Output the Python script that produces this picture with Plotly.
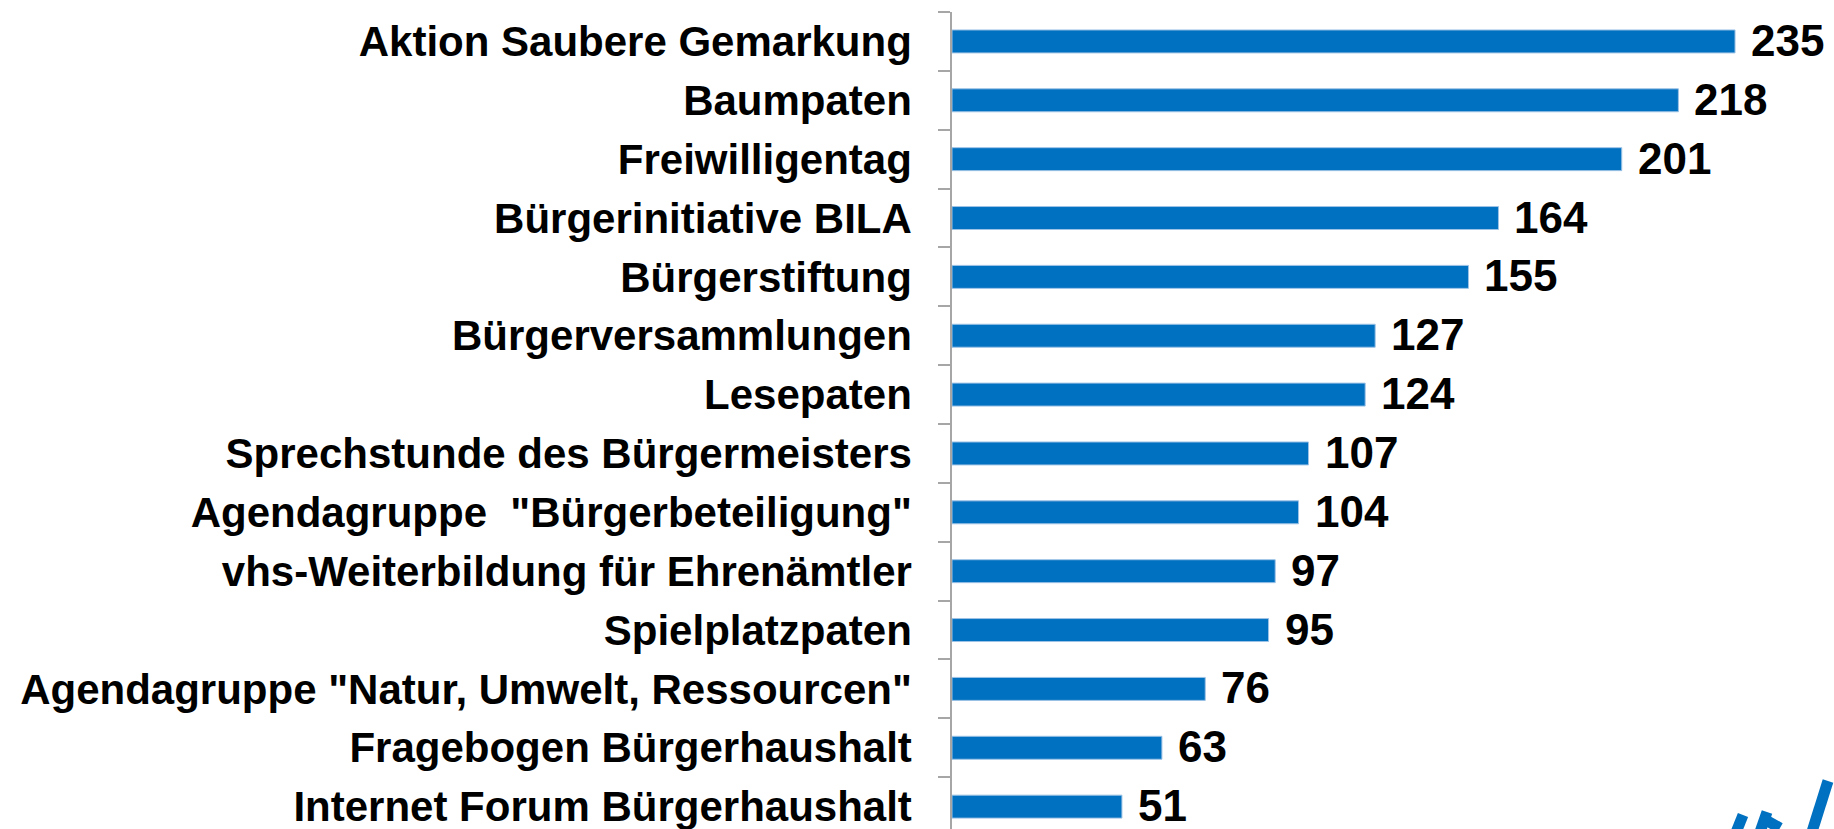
import plotly.graph_objects as go

categories = [
    "Aktion Saubere Gemarkung",
    "Baumpaten",
    "Freiwilligentag",
    "Bürgerinitiative BILA",
    "Bürgerstiftung",
    "Bürgerversammlungen",
    "Lesepaten",
    "Sprechstunde des Bürgermeisters",
    "Agendagruppe \u00a0\"Bürgerbeteiligung\"",
    "vhs-Weiterbildung für Ehrenämtler",
    "Spielplatzpaten",
    "Agendagruppe \"Natur, Umwelt, Ressourcen\"",
    "Fragebogen Bürgerhaushalt",
    "Internet Forum Bürgerhaushalt",
]
values = [235, 218, 201, 164, 155, 127, 124, 107, 104, 97, 95, 76, 63, 51]

BLUE = "#0070C0"
FONT = "Liberation Sans, Arial, sans-serif"

fig = go.Figure()
fig.add_trace(go.Bar(
    x=values,
    y=categories,
    orientation="h",
    marker=dict(color=BLUE, line=dict(color="#9DC3E6", width=1)),
    hoverinfo="x+y",
))

for c, v in zip(categories, values):
    fig.add_annotation(
        x=v, y=c, xref="x", yref="y",
        text=str(v), showarrow=False,
        xanchor="left", yanchor="middle", xshift=14, yshift=1,
        font=dict(family=FONT, size=44, color="#000000", weight="bold"),
    )

# decorative logo fragment (bottom-right corner)
logo_segments = [
    (1828, 781, 1811, 835),
    (1743, 815, 1735, 835),
    (1767, 812, 1759, 835),
    (1762, 818, 1780, 828),
]
for x0, y0, x1, y1 in logo_segments:
    fig.add_shape(
        type="line", xref="paper", yref="paper",
        x0=(x0 - 952) / 882, x1=(x1 - 952) / 882,
        y0=(829 - y0) / 817.45, y1=(829 - y1) / 817.45,
        line=dict(color=BLUE, width=11),
    )

fig.update_layout(
    width=1834, height=829,
    margin=dict(l=952, r=0, t=11.55, b=0, pad=0),
    paper_bgcolor="white", plot_bgcolor="white",
    bargap=0.61,
    showlegend=False,
    xaxis=dict(
        range=[0, 264.7], visible=False, showgrid=False, zeroline=False,
    ),
    yaxis=dict(
        type="category",
        categoryorder="array", categoryarray=categories,
        range=[13.38, -0.5],
        showline=True, linecolor="#A6A6A6", linewidth=1.5,
        ticks="outside", ticklen=12, tickcolor="#A6A6A6", tickwidth=1.5,
        tickson="boundaries",
        showgrid=False, zeroline=False,
        tickfont=dict(family=FONT, size=42, color="#000000", weight="bold"),
        ticklabelstandoff=30,
    ),
)

fig.write_html(
    "out.html",
    config={"displayModeBar": False},
    post_script="document.body.style.margin='0';document.body.style.overflow='hidden';",
)
